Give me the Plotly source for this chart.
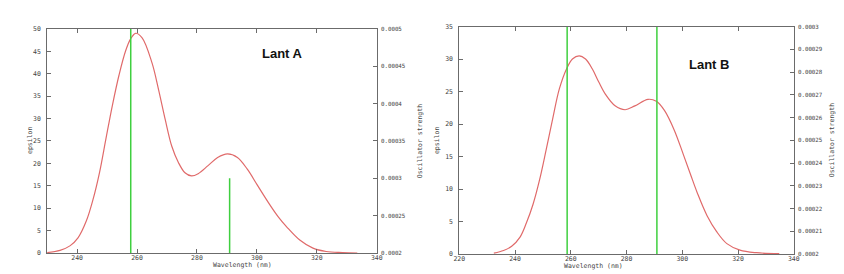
import plotly.graph_objects as go

# ---------------- data ----------------
# Panel A (Lant A): simulated absorption curve (wavelength nm, epsilon)
wl_a = [230, 234.3, 237.6, 240.3, 243.1, 245.3, 247.5, 249.6, 251.8, 254, 256.2,
        257.9, 259.5, 261.7, 265, 267.2, 269.4, 271.6, 273.8, 276, 278.2, 280.4,
        283.7, 286.9, 290.2, 293.5, 296.8, 300.1, 303.9, 307, 310, 314.3, 318.7,
        323.1, 328.6, 333.5]
eps_a = [0.1, 0.6, 1.6, 3.4, 7.2, 11.9, 18.0, 25.4, 33.0, 39.7, 45.1,
         47.8, 49.0, 48, 42.4, 36.4, 29.8, 23.8, 20.2, 17.9, 17.2, 17.7,
         19.5, 21.3, 22.1, 21.3, 18.7, 15.2, 11.2, 8.2, 5.8, 2.9, 1.1,
         0.35, 0.1, 0]
# Panel A: transitions (wavelength nm, oscillator strength)
tr_wl_a = [257.9, 290.9]
tr_f_a = [0.00055, 0.0003]

# Panel B (Lant B)
wl_b = [232.4, 235.9, 238.8, 241.8, 244.1, 246.5, 248.8, 251.2, 253.6, 255.9, 258.4,
        260.6, 263, 265.3, 267.7, 270, 272.4, 275.9, 279.5, 283, 287.7, 290.7,
        293.6, 297.1, 300.4, 303, 305.4, 308.9, 312.4, 316, 320.7, 326.6, 334.8]
eps_b = [0.15, 0.55, 1.2, 2.6, 4.8, 7.7, 11.4, 16.1, 21.0, 25.4, 28.4,
         30.0, 30.5, 30.0, 28.5, 26.5, 24.6, 22.8, 22.2, 22.8, 23.8, 23.5,
         22.1, 19.1, 15.3, 12.2, 9.4, 5.9, 3.4, 1.6, 0.6, 0.2, 0.05]
tr_wl_b = [258.7, 290.9]
tr_f_b = [0.00032, 0.00031]

# axis ticks
xt_a = [240, 260, 280, 300, 320, 340]
yt_a = [0, 5, 10, 15, 20, 25, 30, 35, 40, 45, 50]
ft_a = [0.0002, 0.00025, 0.0003, 0.00035, 0.0004, 0.00045, 0.0005]
ft_a_txt = ["0.0002", "0.00025", "0.0003", "0.00035", "0.0004", "0.00045", "0.0005"]
xt_b = [220, 240, 260, 280, 300, 320, 340]
yt_b = [0, 5, 10, 15, 20, 25, 30, 35]
ft_b = [0.0002, 0.00021, 0.00022, 0.00023, 0.00024, 0.00025, 0.00026, 0.00027,
        0.00028, 0.00029, 0.0003]
ft_b_txt = ["0.0002", "0.00021", "0.00022", "0.00023", "0.00024", "0.00025",
            "0.00026", "0.00027", "0.00028", "0.00029", "0.0003"]

RED = "#e06a6a"
GREEN = "#3fcf3f"
AX = "#6b6b6b"
TXT = "#444444"
TFONT = dict(family="DejaVu Sans Mono", size=6.5, color=TXT)
RFONT = dict(family="DejaVu Sans Mono", size=5.8, color=TXT)


def sticks(xs, fs):
    x, y = [], []
    for a, f in zip(xs, fs):
        x += [a, a, None]
        y += [0, f, None]
    return x, y


fig = go.Figure()
fig.add_trace(go.Scatter(x=wl_a, y=eps_a, mode="lines",
                         line=dict(color=RED, width=1.2, shape="spline", smoothing=1.0),
                         xaxis="x", yaxis="y", showlegend=False))
sx, sy = sticks(tr_wl_a, tr_f_a)
fig.add_trace(go.Scatter(x=sx, y=sy, mode="lines", line=dict(color=GREEN, width=1.5),
                         xaxis="x", yaxis="y2", showlegend=False))
fig.add_trace(go.Scatter(x=wl_b, y=eps_b, mode="lines",
                         line=dict(color=RED, width=1.2, shape="spline", smoothing=1.0),
                         xaxis="x2", yaxis="y3", showlegend=False))
sx, sy = sticks(tr_wl_b, tr_f_b)
fig.add_trace(go.Scatter(x=sx, y=sy, mode="lines", line=dict(color=GREEN, width=1.5),
                         xaxis="x2", yaxis="y4", showlegend=False))

common = dict(showgrid=False, zeroline=False, showline=True, linecolor=AX, linewidth=1,
              ticks="inside", ticklen=4, tickcolor=AX)

W, H = 844, 274
dom_a_x = [33.6 / W, 368 / W]
dom_a_y = [(H - 248.3) / H, (H - 17.3) / H]
dom_b_x = [451.7 / W, 791 / W]
dom_b_y = [(H - 249.3) / H, (H - 15) / H]

fig.update_layout(
    width=W, height=H,
    margin=dict(l=0, r=0, t=0, b=0),
    paper_bgcolor="white", plot_bgcolor="white",
    xaxis=dict(domain=dom_a_x, anchor="y", range=[230, 340], tickvals=xt_a, mirror="ticks",
               ticklabelstandoff=-2, tickfont=TFONT, **common),
    yaxis=dict(domain=dom_a_y, anchor="x", range=[0, 50], tickvals=yt_a,
               ticklabelstandoff=4, tickfont=TFONT, **common),
    yaxis2=dict(overlaying="y", anchor="x", side="right", range=[0.0002, 0.0005],
                tickvals=ft_a, ticktext=ft_a_txt, ticklabelstandoff=2, tickfont=RFONT, **common),
    xaxis2=dict(domain=dom_b_x, anchor="y3", range=[220, 340], tickvals=xt_b, mirror="ticks",
                ticklabelstandoff=-2, tickfont=TFONT, **common),
    yaxis3=dict(domain=dom_b_y, anchor="x2", range=[0, 35], tickvals=yt_b,
                ticklabelstandoff=4, tickfont=TFONT, **common),
    yaxis4=dict(overlaying="y3", anchor="x2", side="right", range=[0.0002, 0.0003],
                tickvals=ft_b, ticktext=ft_b_txt, ticklabelstandoff=2, tickfont=RFONT, **common),
)

ann = [
    dict(text="<b>Lant A</b>", x=308.7, y=44.4, xref="x", yref="y",
         font=dict(family="Liberation Sans", size=13, color="#111111")),
    dict(text="<b>Lant B</b>", x=309.5, y=29.2, xref="x2", yref="y3",
         font=dict(family="Liberation Sans", size=13, color="#111111")),
    dict(text="epsilon", x=10 / W, y=(H - 132) / H, textangle=-90, font=TFONT),
    dict(text="epsilon", x=429 / W, y=(H - 132) / H, textangle=-90, font=TFONT),
    dict(text="Oscillator strength", x=412 / W, y=(H - 133) / H, textangle=-90, font=TFONT),
    dict(text="Oscillator strength", x=836 / W, y=(H - 132) / H, textangle=-90, font=TFONT),
    dict(text="Wavelength (nm)", x=200 / W, y=(H - 267) / H, font=TFONT),
    dict(text="Wavelength (nm)", x=620 / W, y=(H - 268) / H, font=TFONT),
]
for a in ann:
    a.setdefault("xref", "paper")
    a.setdefault("yref", "paper")
    a["showarrow"] = False
    fig.add_annotation(**a)

fig.write_html("out.html")
